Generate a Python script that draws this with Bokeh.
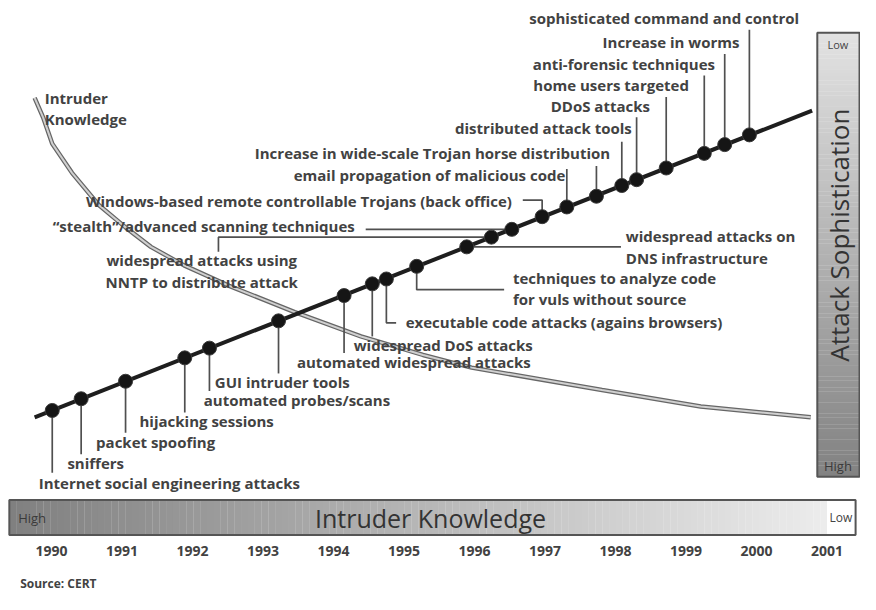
import numpy as np
from bokeh.plotting import figure
from bokeh.models import Range1d
from bokeh.embed import file_html
from bokeh.resources import INLINE
from bokeh.core.properties import value

# ---------------- data ----------------
years = [1990, 1991, 1992, 1993, 1994, 1995, 1996, 1997, 1998, 1999, 2000, 2001]
year_labels = [str(y) for y in years]

event_labels = [
    "Internet social engineering attacks",
    "sniffers",
    "packet spoofing",
    "hijacking sessions",
    "automated probes/scans",
    "GUI intruder tools",
    "automated widespread attacks",
    "widespread DoS attacks",
    "executable code attacks (agains browsers)",
    "techniques to analyze code\nfor vuls without source",
    "widespread attacks on\nDNS infrastructure",
    "widespread attacks using\nNNTP to distribute attack",
    "\u201cstealth\u201d/advanced scanning techniques",
    "Windows-based remote controllable Trojans (back office)",
    "email propagation of malicious code",
    "Increase in wide-scale Trojan horse distribution",
    "distributed attack tools",
    "DDoS attacks",
    "home users targeted",
    "anti-forensic techniques",
    "Increase in worms",
    "sophisticated command and control",
]
event_years = [1990.01, 1990.42, 1991.05, 1991.89, 1992.24, 1993.22, 1994.15, 1994.55,
               1994.75, 1995.18, 1995.89, 1996.24, 1996.53, 1996.96, 1997.31, 1997.73,
               1998.09, 1998.30, 1998.72, 1999.26, 1999.55, 1999.90]
event_levels = [189, 201, 219, 243, 253, 281, 307, 319, 324, 337, 357, 367,
                375, 388, 398, 409, 420, 426, 438, 453, 462, 472]

trend_years = [1989.76, 2000.79]
trend_levels = [182, 497]

knowledge_years = [1989.76, 1989.88, 1990.01, 1990.29, 1990.67, 1991.05, 1991.41, 1991.88,
                   1992.52, 1993.45, 1994.39, 1995.27, 1995.96, 1997.81, 1999.21, 2000.77]
knowledge_levels = [510, 490, 463, 433, 400, 377, 357, 338, 317, 290, 265, 246, 233, 210, 193, 182]

# ---------------- layout helpers (reference page pixels -> data) ----------------
PX_PER_YEAR = 71.8
def X(px):
    return 1990 + (px - 52) / PX_PER_YEAR
def Y(py):
    return 610 - py

FONT = value("Open Sans")
TXT = "#424242"
LEAD = "#505050"
LFS = "15px"

p = figure(width=860, height=594, x_range=Range1d(X(0), X(876)), y_range=Range1d(0, 610),
           output_backend="svg", toolbar_location=None, min_border=0)
p.axis.visible = False
p.grid.visible = False
p.outline_line_color = None
p.background_fill_color = "white"
p.border_fill_color = "white"

def lab(x, y, s, size=LFS, align="center", color=TXT, style="bold", angle=0.0):
    p.text(x=[X(x)], y=[Y(y)], text=[s], text_font=FONT, text_font_size=size,
           text_font_style=style, text_color=color, text_align=align,
           text_baseline="middle", angle=angle)

def leader(xs, ys):
    p.line(x=xs, y=ys, line_color=LEAD, line_width=1.7)

# ---------------- gradient bars ----------------
def mkcols(c0, c1, n):
    cols = []
    for i in range(n):
        t = i / (n - 1)
        c = [int(round(c0[k] + (c1[k] - c0[k]) * t)) for k in range(3)]
        cols.append("#%02x%02x%02x" % tuple(c))
    return cols

def hgrad(x0, x1, y0, y1, c0, c1, n=120):
    edges = np.linspace(x0, x1, n + 1)
    p.quad(left=[X(e) for e in edges[:-1]], right=[X(e) + 0.003 for e in edges[1:]],
           top=Y(y0), bottom=Y(y1), fill_color=mkcols(c0, c1, n), line_color=None)

def vgrad(x0, x1, y0, y1, c0, c1, n=120):
    edges = np.linspace(y0, y1, n + 1)
    p.quad(left=X(x0), right=X(x1), top=[Y(e) + 0.3 for e in edges[:-1]],
           bottom=[Y(e) for e in edges[1:]], fill_color=mkcols(c0, c1, n), line_color=None)

# bottom bar: Intruder Knowledge (High -> Low)
hgrad(9, 842, 513, 549, (128, 128, 128), (236, 236, 236))
p.quad(left=X(842), right=X(871), top=Y(513), bottom=Y(549), fill_color="white", line_color=None)
p.quad(left=X(9), right=X(871), top=Y(513), bottom=Y(549), fill_color=None,
       line_color="#555555", line_width=2)
lab(18, 531, "High", size="13px", align="left", color="#3a3a3a", style="normal")
lab(438, 531, "Intruder Knowledge", size="25px", color="#333333", style="normal")
lab(856, 531, "Low", size="12px", color="#444444", style="normal")

# right bar: Attack Sophistication (Low -> High)
vgrad(832, 876, 33, 489, (226, 226, 226), (130, 130, 130))
p.quad(left=X(832), right=X(875), top=Y(33), bottom=Y(489), fill_color=None,
       line_color="#555555", line_width=2)
lab(853, 45, "Low", size="11px", color="#444444", style="normal")
lab(853, 478, "High", size="13px", color="#3a3a3a", style="normal")
lab(854, 241, "Attack Sophistication", size="26px", color="#333333", style="normal",
    angle=np.pi / 2)

# ---------------- intruder knowledge curve ----------------
p.line(x=knowledge_years, y=knowledge_levels, line_color="#666666", line_width=4.5)
p.line(x=knowledge_years, y=knowledge_levels, line_color="#d0d0d0", line_width=2)
lab(45, 100, "Intruder", size="15px", align="left")
lab(45, 122, "Knowledge", size="15px", align="left")

# ---------------- leaders ----------------
ex = event_years
ey = event_levels
below = {0: 485, 1: 466, 2: 444, 3: 423, 4: 401, 5: 383, 6: 362, 7: 345}
for i, yb in below.items():
    leader([ex[i], ex[i]], [ey[i], Y(yb)])
leader([ex[8], ex[8], X(403)], [ey[8], Y(331), Y(331)])          # executable code
leader([ex[9], ex[9], X(513)], [ey[9], Y(297), Y(297)])          # analyze code
leader([ex[10], X(632)], [ey[10], ey[10]])                       # DNS
leader([ex[11], X(222), X(222)], [ey[11], ey[11], Y(258)])       # NNTP
leader([X(372), ex[12]], [ey[12], ey[12]])                       # stealth
leader([X(532), ex[13], ex[13]], [Y(205), Y(205), ey[13]])       # Windows-based
above = {14: 173, 15: 170, 16: 145, 17: 120, 18: 99, 19: 77, 20: 55, 21: 30}
for i, ya in above.items():
    leader([ex[i], ex[i]], [ey[i], Y(ya)])

# ---------------- trend line and dots ----------------
p.line(x=trend_years, y=trend_levels, line_color="#1e1e1e", line_width=4)
p.scatter(x=event_years, y=event_levels, size=14, fill_color="#151515",
          line_color="#3a3a3a", line_width=1)

# ---------------- event labels ----------------
pos = [
    (172, 495, "center"), (97, 475, "center"), (158, 453, "center"), (210, 432, "center"),
    (302, 410, "center"), (287, 392, "center"), (421, 371, "center"), (451, 354, "center"),
    (574, 330, "center"), (522, 285, "left"), (637, 242, "left"), (205, 267, "center"),
    (207, 232, "center"), (304, 206, "center"), (437, 179, "center"), (440, 157, "center"),
    (553, 131, "center"), (611, 108, "center"), (622, 87, "center"), (635, 65, "center"),
    (683, 43, "center"), (676, 18, "center"),
]
for (x, y, al), s in zip(pos, event_labels):
    for k, line in enumerate(s.split("\n")):
        lab(x, y + 22 * k, line, align=al)

# ---------------- year axis ----------------
p.text(x=years, y=[Y(565)] * len(years), text=year_labels, text_font=FONT,
       text_font_size="14px", text_font_style="bold", text_color=TXT,
       text_align="center", text_baseline="middle")

lab(20, 599, "Source: CERT", size="12px", align="left")

open("out.html", "w").write(file_html(p, INLINE))
